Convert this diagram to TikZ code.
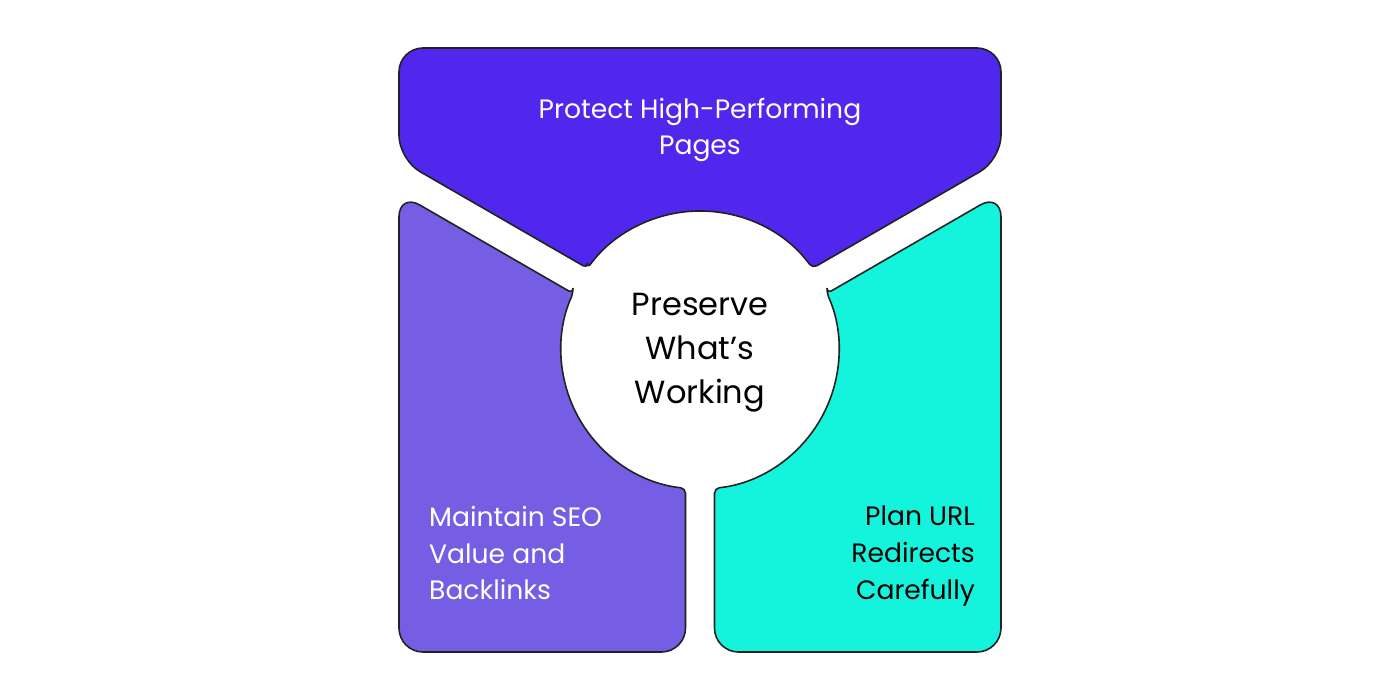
\documentclass[tikz,border=0pt]{standalone}
\usepackage{fontspec}
\setmainfont{Poppins}
\definecolor{topfill}{HTML}{5126ED}
\definecolor{leftfill}{HTML}{755EE4}
\definecolor{rightfill}{HTML}{14F4DC}
\definecolor{edge}{HTML}{222222}
\begin{document}
\begin{tikzpicture}[x=1pt,y=1pt,
  panel/.style={draw=edge,line width=1.6pt,line join=round},
  paneltext/.style={font=\fontsize{26.6}{36.7}\selectfont,inner sep=0pt},
  hubtext/.style={font=\fontsize{32}{44}\selectfont,inner sep=0pt,align=center}]
\useasboundingbox (-700,-350) rectangle (700,350);
\def\R{139}
% upper panel
\path[panel,fill=topfill]
  (144:\R) [rounded corners=24pt] -- (-301,190.5) -- (-301,302) -- (301,302) -- (301,190.5)
  [rounded corners=5pt] -- (36:\R) arc[start angle=36,end angle=144,radius=\R] -- cycle;
% lower left panel
\path[panel,fill=leftfill]
  (156:\R) [rounded corners=24pt] -- (-301,157) -- (-301,-302) -- (-14.5,-302)
  [rounded corners=5pt] -- (264:\R) arc[start angle=264,end angle=156,radius=\R] -- cycle;
% lower right panel
\path[panel,fill=rightfill]
  (24:\R) [rounded corners=24pt] -- (301,157) -- (301,-302) -- (14.5,-302)
  [rounded corners=5pt] -- (276:\R) arc[start angle=276,end angle=384,radius=\R] -- cycle;
% labels
\node[paneltext,text=white,align=center] (top) at (0,220) {Protect High-Performing\\Pages};
\node[hubtext] (hub) at (0,-3) {Preserve\\What’s\\Working};
\node[paneltext,text=white,align=left,anchor=west] (left) at (-271,-203) {Maintain SEO\\Value and\\Backlinks};
\node[paneltext,text=black,align=right,anchor=east] (right) at (275,-206) {Plan URL\\Redirects\\Carefully};
\end{tikzpicture}
\end{document}
